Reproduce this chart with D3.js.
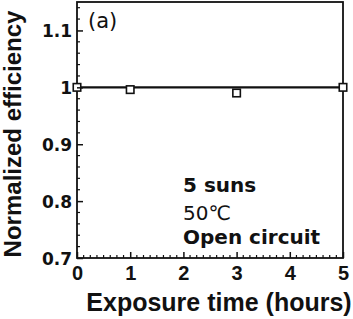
<!DOCTYPE html>
<html><head><meta charset="utf-8">
<script src="https://cdn.jsdelivr.net/npm/d3@7"></script>
<style>body{margin:0;background:#fff}svg{display:block}</style>
</head><body><svg id="c" width="353" height="319" font-family="Liberation Sans, Arial, sans-serif"></svg>
<script>
const hours = [0, 1, 3, 5];
const efficiency = [1.0, 0.996, 0.99, 1.0];
const lineValues = [1.0, 1.0];
const lineHours = [0, 5];
const xTicks = [0, 1, 2, 3, 4, 5];
const yTicks = [0.7, 0.8, 0.9, 1.0, 1.1];
const yTickLabels = ["0.7", "0.8", "0.9", "1", "1.1"];
const notes = ["5 suns", "50℃", "Open circuit"];

const svg = d3.select("#c");
const L = 77, R = 343, T = 2, B = 258;
const x = d3.scaleLinear().domain([0, 5]).range([L, R]);
const y = d3.scaleLinear().domain([0.7, 1.15]).range([B, T]);

const g = svg.append("g");
g.append("rect").attr("x", L).attr("y", T).attr("width", R - L).attr("height", B - T)
  .attr("fill", "none").attr("stroke", "#111").attr("stroke-width", 1.8);

const yMinor = d3.range(0.72, 1.15, 0.02).filter(v => !yTicks.some(t => Math.abs(t - v) < 1e-6));
g.selectAll(".ym").data(yMinor).join("line")
  .attr("x1", L).attr("x2", L + 3).attr("y1", d => y(d)).attr("y2", d => y(d))
  .attr("stroke", "#111").attr("stroke-width", 1.2);
const xMinor = d3.range(0.125, 5, 0.125).filter(v => !xTicks.some(t => Math.abs(t - v) < 1e-6));
g.selectAll(".xm").data(xMinor).join("line")
  .attr("x1", d => x(d)).attr("x2", d => x(d)).attr("y1", B).attr("y2", B - 3)
  .attr("stroke", "#111").attr("stroke-width", 1.2);

const yAxis = d3.axisLeft(y).tickValues(yTicks).tickSize(-6).tickPadding(5)
  .tickFormat((d, i) => yTickLabels[i]);
const ya = svg.append("g").attr("transform", `translate(${L},0)`).call(yAxis);
ya.attr("font-family", "DejaVu Sans, sans-serif").attr("font-size", 17);
ya.select(".domain").remove();
ya.selectAll("line").attr("stroke", "#111").attr("stroke-width", 1.5);
ya.selectAll("text").attr("font-weight", "bold").attr("fill", "#111").attr("dy", "0.36em");

const xAxis = d3.axisBottom(x).tickValues(xTicks).tickSize(-6).tickPadding(8).tickFormat(d3.format("d"));
const xa = svg.append("g").attr("transform", `translate(0,${B})`).call(xAxis);
xa.attr("font-family", "Liberation Sans, Arial, sans-serif").attr("font-size", 20);
xa.select(".domain").remove();
xa.selectAll("line").attr("stroke", "#111").attr("stroke-width", 1.5);
xa.selectAll("text").attr("font-weight", "bold").attr("fill", "#111");

const line = d3.line().x(d => x(d[0])).y(d => y(d[1]));
g.append("path").datum(lineHours.map((h, i) => [h, lineValues[i]]))
  .attr("d", line).attr("fill", "none").attr("stroke", "#111").attr("stroke-width", 2.2);

const s = 7.5;
g.selectAll(".pt").data(hours.map((h, i) => [h, efficiency[i]])).join("rect")
  .attr("x", d => x(d[0]) - s / 2).attr("y", d => y(d[1]) - s / 2)
  .attr("width", s).attr("height", s)
  .attr("fill", "#fff").attr("stroke", "#111").attr("stroke-width", 1.6);

svg.append("text").attr("x", 219).attr("y", 311).attr("text-anchor", "middle")
  .attr("fill", "#111").attr("font-size", 25).attr("font-weight", "bold").text("Exposure time (hours)");
svg.append("text").attr("transform", "translate(21,134) rotate(-90)").attr("text-anchor", "middle")
  .attr("fill", "#111").attr("font-size", 24).attr("font-weight", "bold").text("Normalized efficiency");

svg.append("text").attr("x", 88).attr("y", 28).attr("font-size", 21).attr("fill", "#111")
  .attr("font-family", "DejaVu Sans, sans-serif").text("(a)");

const noteY = [192, 220, 244];
svg.selectAll(".note").data(notes).join("text")
  .attr("x", 183).attr("y", (d, i) => noteY[i]).attr("fill", "#111")
  .attr("font-family", "DejaVu Sans, sans-serif")
  .attr("font-size", 20).attr("font-weight", (d, i) => i === 1 ? "normal" : "bold")
  .text(d => d);
</script></body></html>
